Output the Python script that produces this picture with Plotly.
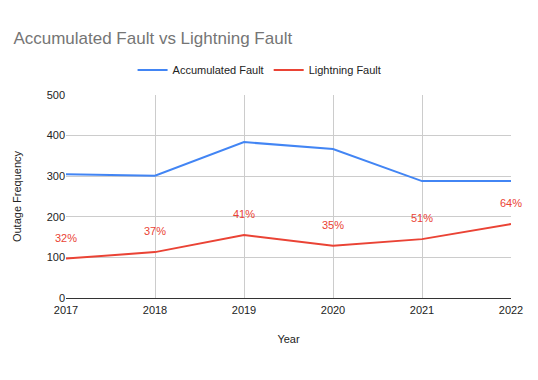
import plotly.graph_objects as go

years = [2017, 2018, 2019, 2020, 2021, 2022]
accumulated = [305, 301, 384, 367, 288, 288]
lightning = [97, 113, 155, 129, 145, 182]
pct_labels = ["32%", "37%", "41%", "35%", "51%", "64%"]

BLUE = "#4285F4"
RED = "#EA4335"
FONT = "Liberation Sans, Arial, sans-serif"

fig = go.Figure()
fig.add_trace(go.Scatter(x=years, y=accumulated, mode="lines", name="Accumulated Fault",
                         line=dict(color=BLUE, width=2)))
fig.add_trace(go.Scatter(x=years, y=lightning, mode="lines", name="Lightning Fault",
                         line=dict(color=RED, width=2)))

for x, y, t in zip(years, lightning, pct_labels):
    fig.add_annotation(x=x, y=y, text=t, showarrow=False, yshift=21,
                       font=dict(family=FONT, size=11, color=RED))

fig.update_layout(
    width=538, height=380,
    paper_bgcolor="white", plot_bgcolor="white",
    font=dict(family=FONT, size=11, color="#222222"),
    margin=dict(l=58, r=35, t=87, b=90, autoexpand=False),
    title=dict(text="Accumulated Fault vs Lightning Fault", x=0.01, xanchor="left",
               y=0.905, yanchor="bottom",
               font=dict(family=FONT, size=17, color="#757575")),
    legend=dict(orientation="h", x=0.435, xanchor="center", y=1.123, yanchor="middle",
                font=dict(family=FONT, size=11, color="#222222"),
                bgcolor="rgba(0,0,0,0)"),
    showlegend=True,
)
fig.update_xaxes(range=[2017, 2022], tickvals=years, ticktext=[str(y) for y in years],
                 showgrid=True, gridcolor="#cccccc", gridwidth=1,
                 showline=True, linecolor="#333333", linewidth=1,
                 zeroline=False, ticks="", automargin=False, ticklabelstandoff=2,
                 tickfont=dict(size=11, color="#222222"),
                 title=dict(text="Year", font=dict(size=11, color="#222222"), standoff=20))
fig.update_yaxes(range=[0, 500], tickvals=[0, 100, 200, 300, 400, 500],
                 showgrid=True, gridcolor="#cccccc", gridwidth=1,
                 zeroline=False, showline=False, ticks="", automargin=False,
                 tickfont=dict(size=11, color="#222222"),
                 title=dict(text="Outage Frequency", font=dict(size=11, color="#222222"), standoff=22))

fig.write_html("out.html")
